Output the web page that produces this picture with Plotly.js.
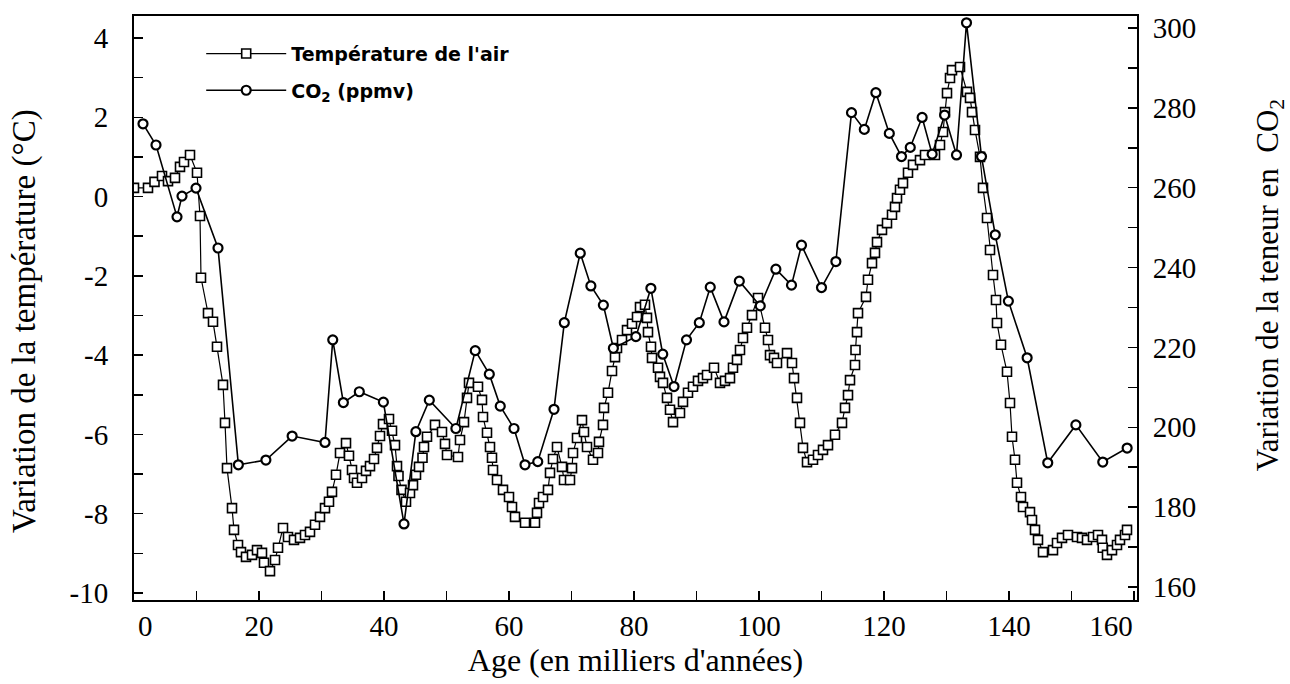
<!DOCTYPE html>
<html><head><meta charset="utf-8">
<script src="https://cdn.plot.ly/plotly-3.0.1.min.js"></script>
<style>html,body{margin:0;padding:0;background:#fff}</style>
</head><body>
<div id="chart" style="width:1290px;height:684px"></div>
<script>
// Age (thousands of years) and air temperature variation (°C)
const tempAge = [0.0,2.24,3.28,4.48,5.44,6.56,7.36,8.0,8.96,10.08,10.56,10.72,11.84,12.64,13.28,14.24,14.56,14.88,15.68,16.0,16.64,17.12,17.92,18.88,19.68,20.48,20.8,21.76,22.56,23.04,23.84,24.64,25.6,26.56,27.36,28.16,28.96,29.76,30.56,31.2,31.68,32.32,32.96,33.92,34.4,34.88,35.2,35.68,36.48,37.12,37.76,38.4,38.88,39.36,39.84,40.8,41.28,41.76,42.08,42.32,42.8,43.52,44.16,44.64,45.12,45.6,46.16,46.4,46.88,48.16,49.28,49.76,50.08,51.84,52.16,52.8,53.28,53.6,55.04,55.68,55.84,56.48,56.96,57.28,57.44,58.08,59.04,60.0,60.48,60.96,62.56,64.16,64.48,64.8,65.44,66.24,66.56,67.04,67.68,68.48,68.8,69.76,70.08,70.24,70.88,71.68,72.0,72.48,73.44,74.24,74.4,75.04,75.2,75.84,76.48,76.96,77.28,78.08,78.88,79.68,80.48,80.96,81.76,82.08,82.24,82.72,82.88,83.84,84.16,84.64,85.28,85.76,86.24,87.36,87.84,88.64,89.44,90.24,91.04,91.68,92.8,93.76,94.56,95.36,95.84,96.48,96.96,97.44,98.08,98.88,99.84,100.96,101.44,101.76,102.4,102.88,104.48,105.28,105.6,106.08,106.56,107.04,107.68,108.64,109.44,110.24,111.04,112.16,113.28,113.76,114.24,114.56,115.36,115.44,115.68,115.84,117.12,117.44,118.08,118.56,118.88,119.68,120.48,121.28,121.76,122.08,122.56,123.04,123.84,124.64,125.76,126.56,128.16,128.96,129.44,129.76,130.08,130.56,130.88,132.16,133.28,133.76,134.08,134.56,135.36,135.84,136.48,136.96,137.44,137.92,138.08,138.72,139.68,140.16,140.48,140.96,141.28,141.92,142.24,143.36,143.68,144.16,144.64,145.44,147.04,147.68,148.48,149.44,150.88,151.68,152.48,153.44,154.24,154.88,155.0,155.68,156.48,157.28,157.76,158.56,158.88];
const tempVal = [0.22,0.22,0.37,0.52,0.39,0.47,0.75,0.87,1.05,0.60,-0.49,-2.05,-2.94,-3.16,-3.79,-4.75,-5.71,-6.85,-7.86,-8.41,-8.79,-8.97,-9.09,-9.04,-8.92,-8.99,-9.24,-9.45,-9.17,-8.86,-8.36,-8.59,-8.66,-8.61,-8.54,-8.46,-8.28,-8.08,-7.86,-7.70,-7.45,-7.02,-6.47,-6.22,-6.54,-6.90,-7.10,-7.22,-7.10,-6.92,-6.80,-6.62,-6.34,-6.04,-5.74,-5.61,-5.91,-6.27,-6.80,-7.05,-7.40,-7.70,-7.48,-7.28,-7.02,-6.82,-6.59,-6.32,-6.06,-5.76,-5.94,-6.24,-6.52,-6.57,-6.14,-5.69,-5.08,-4.70,-4.80,-5.13,-5.56,-5.96,-6.32,-6.59,-6.90,-7.15,-7.40,-7.58,-7.83,-8.08,-8.23,-8.23,-7.98,-7.73,-7.58,-7.40,-6.97,-6.62,-6.32,-6.82,-7.15,-7.15,-6.85,-6.47,-6.09,-5.64,-5.94,-6.32,-6.64,-6.47,-6.19,-5.76,-5.33,-4.95,-4.40,-4.05,-3.82,-3.62,-3.37,-3.21,-3.04,-2.79,-2.73,-3.06,-3.42,-3.79,-4.07,-4.32,-4.55,-4.70,-5.08,-5.38,-5.69,-5.46,-5.18,-4.95,-4.80,-4.65,-4.58,-4.50,-4.32,-4.70,-4.65,-4.58,-4.32,-4.12,-3.87,-3.57,-3.31,-2.99,-2.56,-3.31,-3.62,-4.00,-4.07,-4.20,-3.95,-4.20,-4.58,-5.08,-5.71,-6.34,-6.70,-6.64,-6.52,-6.39,-6.27,-6.01,-5.71,-5.33,-5.01,-4.63,-4.25,-3.87,-3.42,-2.94,-2.53,-2.10,-1.68,-1.42,-1.15,-0.84,-0.67,-0.46,-0.26,-0.04,0.17,0.34,0.60,0.80,0.92,1.05,1.05,1.30,1.63,2.13,2.61,2.99,3.19,3.27,2.64,2.49,2.13,1.68,1.00,0.22,-0.54,-1.35,-1.98,-2.61,-3.19,-3.74,-4.42,-5.21,-6.06,-6.64,-7.22,-7.58,-7.83,-7.96,-8.16,-8.41,-8.66,-8.97,-8.92,-8.74,-8.61,-8.54,-8.59,-8.61,-8.66,-8.59,-8.54,-8.66,-8.86,-9.04,-8.92,-8.79,-8.66,-8.54,-8.41];

// Age (thousands of years) and CO2 concentration (ppmv)
const co2Age = [1.44,3.52,6.88,7.68,9.92,13.44,16.7,21.1,25.3,30.56,31.8,33.5,36.05,39.9,43.2,45.1,47.25,51.5,54.6,56.85,58.6,60.8,62.56,64.6,67.2,68.85,71.4,73.1,75.1,76.7,80.3,82.7,84.6,86.4,88.4,90.45,92.2,94.4,96.85,100.2,102.7,105.2,106.8,110.0,112.3,114.8,116.85,118.7,120.85,122.8,124.2,126.1,127.7,129.7,131.6,133.2,135.6,137.8,139.9,142.9,146.2,150.7,155.0,158.9];
const co2Val = [276.0,270.7,252.7,257.9,259.9,244.9,190.6,191.8,197.8,196.2,221.9,206.2,208.9,206.3,175.8,198.9,206.8,199.7,219.2,213.3,205.3,199.7,190.6,191.4,204.5,226.2,243.6,235.4,230.6,219.8,222.7,234.8,218.3,210.2,221.9,226.2,235.1,226.4,236.6,230.4,239.6,235.6,245.6,235.0,241.5,278.8,274.6,283.8,273.6,267.8,270.1,277.6,268.4,278.2,268.2,301.3,267.8,248.2,231.6,217.4,191.1,200.6,191.3,194.8];

// Tick labels
const xTickVals = [0,20,40,60,80,100,120,140,160];
const xTickText = ['0','20','40','60','80','100','120','140','160'];
const tempTickVals = [-10,-8,-6,-4,-2,0,2,4];
const tempTickText = ['-10','-8','-6','-4','-2','0','2','4'];
const co2TickVals = [160,180,200,220,240,260,280,300];
const co2TickText = ['160','180','200','220','240','260','280','300'];

const serif = 'Liberation Serif, Times New Roman, serif';
const black = '#000';

// the end labels sit slightly inside the frame in the original
const xLabelPos = xTickVals.map(v => v === 0 ? 1.8 : (v === 160 ? 156.3 : v));

const traces = [
  {
    x: tempAge, y: tempVal, type: 'scatter', mode: 'lines+markers',
    name: 'Température de l\'air', legendgroup: 'a',
    line: {color: black, width: 1.2},
    marker: {symbol: 'square', size: 9, color: '#fff', line: {color: black, width: 1.6}},
    xaxis: 'x', yaxis: 'y'
  },
  {
    x: co2Age, y: co2Val, type: 'scatter', mode: 'lines+markers',
    name: 'CO<sub>2</sub> (ppmv)', legendgroup: 'b',
    line: {color: black, width: 1.6},
    marker: {symbol: 'circle', size: 9, color: '#fff', line: {color: black, width: 2.2}},
    xaxis: 'x2', yaxis: 'y2'
  }
];

const tickFont = {family: serif, size: 29, color: black};

const layout = {
  width: 1290, height: 684,
  margin: {l: 134, r: 153, t: 16, b: 84},
  paper_bgcolor: '#fff', plot_bgcolor: '#fff',
  showlegend: true,
  legend: {
    x: 0.067, y: 0.968, xanchor: 'left', yanchor: 'top',
    bgcolor: 'rgba(0,0,0,0)', borderwidth: 0,
    font: {family: 'DejaVu Sans, sans-serif', size: 19, weight: 'bold', color: black},
    itemwidth: 80, traceorder: 'grouped', tracegroupgap: 9
  },
  xaxis: {
    range: [0, 160.48], tickmode: 'linear', tick0: 0, dtick: 10,
    ticks: 'inside', ticklen: 9, tickwidth: 1.5, tickcolor: black,
    showticklabels: false, showline: true, mirror: true, linecolor: black, linewidth: 2,
    showgrid: false, zeroline: false
  },
  xaxis2: {
    overlaying: 'x', anchor: 'y2', side: 'bottom', range: [0, 160.48],
    tickmode: 'array', tickvals: xLabelPos, ticktext: xTickText,
    ticks: '', showline: false, showgrid: false, zeroline: false,
    tickfont: tickFont, ticklabelstandoff: 6,
    title: {text: 'Age (en milliers d\'années)', font: {family: serif, size: 32, color: black}, standoff: 0}
  },
  yaxis: {
    range: [-10.178, 4.555], tickmode: 'array', tickvals: tempTickVals, ticktext: tempTickText,
    ticks: 'inside', ticklen: 9, tickwidth: 1.5, tickcolor: black,
    minor: {tickmode: 'linear', tick0: 0, dtick: 1, ticks: 'inside', ticklen: 9, tickwidth: 1.5, tickcolor: black, showgrid: false},
    showline: true, linecolor: black, linewidth: 2, showgrid: false, zeroline: false,
    tickfont: tickFont, ticklabelstandoff: 18
  },
  yaxis2: {
    overlaying: 'y', side: 'right', anchor: 'x2', range: [156.75, 303.0],
    tickmode: 'array', tickvals: co2TickVals, ticktext: co2TickText,
    ticks: 'inside', ticklen: 9, tickwidth: 1.5, tickcolor: black,
    minor: {tickmode: 'linear', tick0: 160, dtick: 10, ticks: 'inside', ticklen: 9, tickwidth: 1.5, tickcolor: black, showgrid: false},
    showline: true, linecolor: black, linewidth: 2, showgrid: false, zeroline: false,
    tickfont: tickFont, ticklabelstandoff: 8
  },
  annotations: [
    {text: 'Variation de la température (°C)', textangle: -90, xref: 'paper', yref: 'paper',
     x: -0.1097, y: 0.4777, xanchor: 'center', yanchor: 'middle', showarrow: false,
     font: {family: serif, size: 33, color: black}},
    {text: 'Variation de la teneur en&nbsp; CO<sub>2</sub>', textangle: -90, xref: 'paper', yref: 'paper',
     x: 1.1326, y: 0.539, xanchor: 'center', yanchor: 'middle', showarrow: false,
     font: {family: serif, size: 31, color: black}}
  ]
};

Plotly.newPlot('chart', traces, layout, {displayModeBar: false, staticPlot: true});
</script>
</body></html>
